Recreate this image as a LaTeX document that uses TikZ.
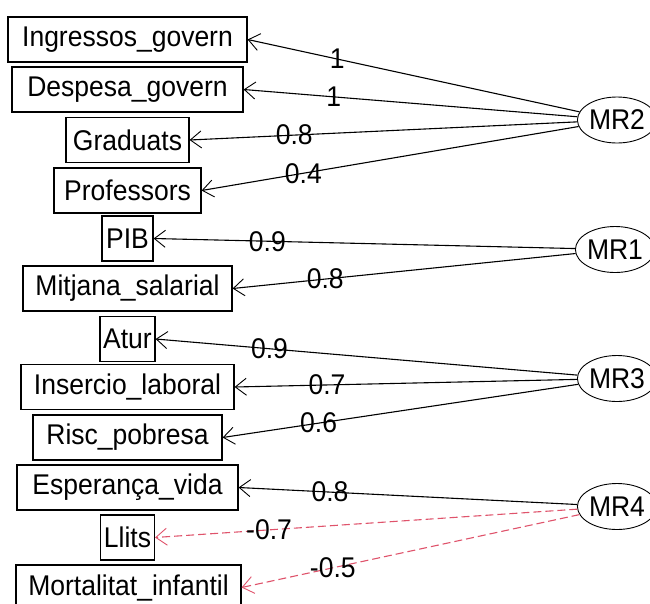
\documentclass[tikz,border=0pt]{standalone}
\usepackage{fontspec}
\setmainfont{Liberation Sans}[FakeStretch=0.93]
\usetikzlibrary{arrows.meta,shapes.geometric}
\definecolor{neg}{RGB}{223,83,107}
\begin{document}
\begin{tikzpicture}[x=1pt,y=-1pt,
  font=\fontsize{28.5}{32}\selectfont,
  var/.style={draw,line width=1.2pt,inner sep=0pt,minimum height=45pt},
  fac/.style={draw,ellipse,line width=0.9pt,inner sep=0pt,minimum width=64pt,minimum height=46pt},
  load/.style={-{Straight Barb[length=11pt,width=17pt,line width=0.9pt]},line width=1.1pt},
  negload/.style={load,draw=neg,dash pattern=on 8pt off 4pt},
  lab/.style={inner sep=0pt,pos=0.73}]
\clip (0,0) rectangle (650,603);
\useasboundingbox (0,0) rectangle (650,603);
% variables
\node[var,minimum width=239pt] (ig) at (127.5,39.5) {Ingressos\_govern};
\node[var,minimum width=231pt] (dg) at (127.5,89.5) {Despesa\_govern};
\node[var,minimum width=123pt] (gr) at (127.5,140) {Graduats};
\node[var,minimum width=147pt] (pr) at (127.5,190.5) {Professors};
\node[var,minimum width=51pt] (pib) at (127.5,238.5) {PIB};
\node[var,minimum width=209pt] (ms) at (127.5,288.5) {Mitjana\_salarial};
\node[var,minimum width=55pt] (at) at (127.5,339) {Atur};
\node[var,minimum width=213pt] (il) at (127.5,387) {Insercio\_laboral};
\node[var,minimum width=189pt] (rp) at (127.5,437.5) {Risc\_pobresa};
\node[var,minimum width=221pt] (ev) at (127.5,487.5) {Esperança\_vida};
\node[var,minimum width=54pt] (ll) at (127.5,537.5) {Llits};
\node[var,minimum width=225pt] (mi) at (128.5,587.5) {Mortalitat\_infantil};
% factors
\node[fac] (mr2) at (617,120) {MR2};
\node[fac] (mr1) at (615,249.5) {MR1};
\node[fac] (mr3) at (617,378.5) {MR3};
\node[fac] (mr4) at (617,506.5) {MR4};
% loadings
\draw[load] (mr2) -- node[lab]{1} (ig.east);
\draw[load] (mr2) -- node[lab]{1} (dg.east);
\draw[load] (mr2) -- node[lab]{0.8} (gr.east);
\draw[load] (mr2) -- node[lab]{0.4} (pr.east);
\draw[load] (mr1) -- node[lab]{0.9} (pib.east);
\draw[load] (mr1) -- node[lab]{0.8} (ms.east);
\draw[load] (mr3) -- node[lab]{0.9} (at.east);
\draw[load] (mr3) -- node[lab]{0.7} (il.east);
\draw[load] (mr3) -- node[lab]{0.6} (rp.east);
\draw[load] (mr4) -- node[lab]{0.8} (ev.east);
\draw[negload] (mr4) -- node[lab]{-0.7} (ll.east);
\draw[negload] (mr4) -- node[lab]{-0.5} (mi.east);
\end{tikzpicture}
\end{document}
